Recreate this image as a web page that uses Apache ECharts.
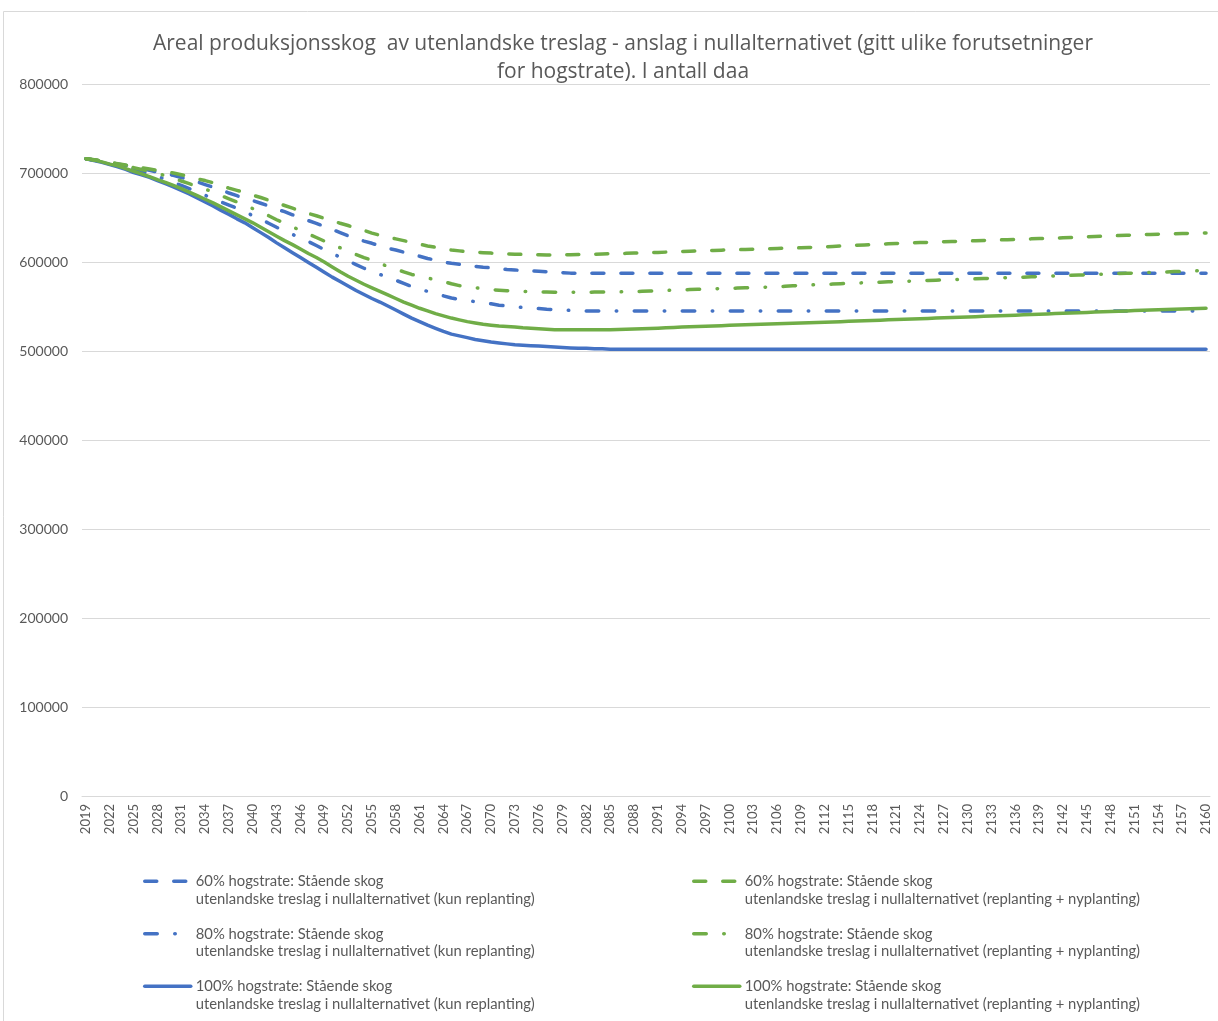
<!DOCTYPE html>
<html>
<head>
<meta charset="utf-8">
<script src="https://cdn.jsdelivr.net/npm/echarts@6/dist/echarts.min.js"></script>
<style>html,body{margin:0;padding:0;background:#fff;}#chart{width:1218px;height:1021px;}</style>
</head>
<body>
<div id="chart"></div>
<script>
var titleText = 'Areal produksjonsskog  av utenlandske treslag - anslag i nullalternativet (gitt ulike forutsetninger\nfor hogstrate). I antall daa';

var years = [2019,2020,2021,2022,2023,2024,2025,2026,2027,2028,
2029,2030,2031,2032,2033,2034,2035,2036,2037,2038,
2039,2040,2041,2042,2043,2044,2045,2046,2047,2048,
2049,2050,2051,2052,2053,2054,2055,2056,2057,2058,
2059,2060,2061,2062,2063,2064,2065,2066,2067,2068,
2069,2070,2071,2072,2073,2074,2075,2076,2077,2078,
2079,2080,2081,2082,2083,2084,2085,2086,2087,2088,
2089,2090,2091,2092,2093,2094,2095,2096,2097,2098,
2099,2100,2101,2102,2103,2104,2105,2106,2107,2108,
2109,2110,2111,2112,2113,2114,2115,2116,2117,2118,
2119,2120,2121,2122,2123,2124,2125,2126,2127,2128,
2129,2130,2131,2132,2133,2134,2135,2136,2137,2138,
2139,2140,2141,2142,2143,2144,2145,2146,2147,2148,
2149,2150,2151,2152,2153,2154,2155,2156,2157,2158,
2159,2160];

var names = [
  '60% hogstrate: Stående skog\nutenlandske treslag i nullalternativet (kun replanting)',
  '80% hogstrate: Stående skog\nutenlandske treslag i nullalternativet (kun replanting)',
  '100% hogstrate: Stående skog\nutenlandske treslag i nullalternativet (kun replanting)',
  '60% hogstrate: Stående skog\nutenlandske treslag i nullalternativet (replanting + nyplanting)',
  '80% hogstrate: Stående skog\nutenlandske treslag i nullalternativet (replanting + nyplanting)',
  '100% hogstrate: Stående skog\nutenlandske treslag i nullalternativet (replanting + nyplanting)'
];

var blue60 = [716000,714500,713000,711500,710000,708500,707000,705000,703000,701000,
699000,697500,695000,692500,690000,687000,684000,681000,677500,674500,
671500,669000,666000,663000,659500,656500,653000,650000,646500,643500,
640000,636500,633000,629500,626500,623500,621000,618000,615500,613500,
611000,609000,606500,604000,602000,600000,598500,597500,596000,595000,
594000,593500,592500,591500,591000,590500,590000,589500,589000,588500,
588000,587500,587500,587500,587500,587500,587500,587500,587500,587500,
587500,587500,587500,587500,587500,587500,587500,587500,587500,587500,
587500,587500,587500,587500,587500,587500,587500,587500,587500,587500,
587500,587500,587500,587500,587500,587500,587500,587500,587500,587500,
587500,587500,587500,587500,587500,587500,587500,587500,587500,587500,
587500,587500,587500,587500,587500,587500,587500,587500,587500,587500,
587500,587500,587500,587500,587500,587500,587500,587500,587500,587500,
587500,587500,587500,587500,587500,587500,587500,587500,587500,587500,
587500,587500];

var blue80 = [716000,714500,713000,711000,709000,707000,704500,702000,699000,696000,
693000,689500,686000,682500,679000,675000,671000,667500,664000,660500,
656500,652000,648000,643500,639000,635000,631000,627000,623000,618500,
614000,609500,605500,601500,597000,593000,589000,586000,583000,579500,
576000,572500,569500,567000,564500,562000,559500,558000,556500,555500,
554500,553000,551500,550500,549500,549000,548300,547700,547000,546500,
546000,545600,545300,545000,545000,545000,545000,545000,545000,545000,
545000,545000,545000,545000,545000,545000,545000,545000,545000,545000,
545000,545000,545000,545000,545000,545000,545000,545000,545000,545000,
545000,545000,545000,545000,545000,545000,545000,545000,545000,545000,
545000,545000,545000,545000,545000,545000,545000,545000,545000,545000,
545000,545000,545000,545000,545000,545000,545000,545000,545000,545000,
545000,545000,545000,545000,545000,545000,545000,545000,545000,545000,
545000,545000,545000,545000,545000,545000,545000,545000,545000,545000,
545000,545000];

var blue100 = [716000,714000,712000,709500,707000,704000,700500,698000,695000,691500,
688000,684500,680500,676500,672000,667500,663000,658000,653500,648500,
644000,638500,633000,627500,621500,616000,610500,605000,599500,594000,
588500,583000,578000,573000,568000,563500,559000,555000,550500,546000,
541500,537000,533000,529000,525500,522000,519000,517000,515000,513000,
511500,510000,509000,508000,507000,506500,506000,505500,505000,504500,
504000,503500,503000,503000,502500,502500,502000,502000,502000,502000,
502000,502000,502000,502000,502000,502000,502000,502000,502000,502000,
502000,502000,502000,502000,502000,502000,502000,502000,502000,502000,
502000,502000,502000,502000,502000,502000,502000,502000,502000,502000,
502000,502000,502000,502000,502000,502000,502000,502000,502000,502000,
502000,502000,502000,502000,502000,502000,502000,502000,502000,502000,
502000,502000,502000,502000,502000,502000,502000,502000,502000,502000,
502000,502000,502000,502000,502000,502000,502000,502000,502000,502000,
502000,502000];

var green60 = [716000,715000,713500,712000,710500,709000,707500,706000,704500,703000,
701500,700000,698000,696000,693500,691500,689000,686000,683000,680500,
678000,675000,672500,669500,666500,663500,660500,657500,654500,652000,
649000,646500,643500,641000,638000,635500,632500,630000,628000,626000,
624000,622000,620000,618000,616500,615000,613500,612500,611500,611000,
610500,610000,609500,609000,608800,608500,608300,608100,608000,608000,
608000,608100,608300,608500,608700,609000,609200,609500,609700,610000,
610200,610500,610800,611100,611400,611800,612200,612500,612800,613000,
613300,613500,613800,614100,614400,614700,615000,615200,615500,615700,
616000,616300,616700,617100,617500,618000,618400,618800,619200,619600,
620000,620400,620800,621200,621500,621800,622100,622400,622700,623000,
623300,623600,623900,624200,624500,624800,625100,625400,625700,626000,
626300,626600,626900,627200,627500,627900,628300,628700,629100,629400,
629700,630000,630400,630700,631000,631300,631600,631800,632000,632200,
632400,632500];

var green80 = [716000,715000,713500,712000,710000,708000,706000,704000,702000,699500,
697000,694000,691000,688000,685000,682000,678500,674500,671000,667500,
664000,660000,656000,652000,647500,643500,639500,635500,631500,627500,
623500,619500,616000,612500,608500,605000,602000,598500,595000,592000,
589000,586000,584000,582000,580000,578000,575500,573500,572000,571000,
570000,569000,568300,567700,567300,567000,566700,566400,566200,566000,
566000,566000,566000,566000,566200,566200,566300,566400,566600,566800,
567000,567300,567600,568000,568300,568700,569000,569300,569600,569900,
570200,570400,570700,571000,571300,571600,571900,572200,572700,573200,
573700,574100,574500,574900,575200,575600,576000,576300,576700,577000,
577300,577700,578000,578300,578600,578900,579200,579500,579900,580200,
580500,580800,581100,581400,581700,582000,582400,582700,583000,583300,
583700,584000,584300,584700,585000,585300,585700,586000,586300,586700,
587000,587300,587600,587900,588200,588500,588800,589200,589500,589800,
590100,590400];

var green100 = [716000,714500,712500,710000,708000,705000,702000,699000,696000,692500,
689500,686000,682500,678500,674500,670500,666500,662000,657500,653000,
648500,644000,639000,634000,629000,624000,619500,614500,609500,605000,
600000,594500,589000,584000,579500,575000,571000,567000,563000,559000,
555000,551500,548000,545000,542000,539500,537000,535000,533000,531500,
530000,529000,528000,527500,527000,526000,525500,525000,524500,524000,
524000,524000,524000,524000,524000,524000,524000,524200,524400,524600,
524900,525300,525700,526100,526500,526900,527300,527600,527900,528200,
528500,528800,529100,529400,529700,530000,530300,530600,530900,531200,
531500,531800,532100,532400,532700,533000,533300,533700,534000,534300,
534600,535000,535300,535700,536000,536300,536600,537000,537300,537600,
538000,538300,538600,539000,539300,539600,540000,540300,540600,541000,
541300,541600,542000,542300,542600,543000,543300,543700,544000,544300,
544700,545000,545400,545700,546000,546400,546700,547000,547300,547600,
547800,548000];

var yTicks = [0,100000,200000,300000,400000,500000,600000,700000,800000];

var BLUE = '#4472C4', GREEN = '#70AD47';
var DASH = [12, 17];
var DASHDOT = [12.5, 17.5, 0.5, 17.5];
var FONT = 'Lato';

function mk(name, data, color, type) {
  return {
    name: name, type: 'line', data: data, symbol: 'none', smooth: false,
    lineStyle: { color: color, width: 3.5, type: type, cap: 'round', join: 'round' },
    itemStyle: { color: color },
    emphasis: { disabled: true },
    animation: false
  };
}

var chart = echarts.init(document.getElementById('chart'), null, { renderer: 'canvas' });
var legendCommon = {
  orient: 'vertical', itemWidth: 46, itemHeight: 14, itemGap: 0, padding: 0,
  height: 165,
  itemStyle: { opacity: 0, borderWidth: 0 },
  lineStyle: { width: 3.5, cap: 'round' },
  formatter: function (name) { return ' \n' + name; },
  textStyle: { color: '#595959', fontSize: 14.8, fontFamily: FONT, lineHeight: 17.5 },
  selectedMode: false
};
chart.setOption({
  animation: false,
  backgroundColor: '#ffffff',
  graphic: [{
    type: 'rect', shape: { x: 3.5, y: 11.5, width: 1240, height: 1040 },
    style: { fill: 'none', stroke: '#d9d9d9', lineWidth: 1 }, silent: true, z: -1
  }],
  title: {
    text: titleText, left: 618, top: 25, textAlign: 'center',
    textStyle: { color: '#595959', fontSize: 21, fontWeight: 'normal', fontFamily: 'Open Sans', lineHeight: 28 }
  },
  legend: [
    Object.assign({}, legendCommon, { left: 143, top: 855, data: names.slice(0, 3) }),
    Object.assign({}, legendCommon, { left: 692, top: 855, data: names.slice(3, 6) })
  ],
  grid: { left: 82, right: 8, top: 84, bottom: 225, containLabel: false },
  xAxis: {
    type: 'category', data: years, boundaryGap: true,
    axisLine: { show: true, lineStyle: { color: '#d9d9d9', width: 1 } },
    axisTick: { show: false },
    axisLabel: { interval: 2, rotate: 90, color: '#595959', fontSize: 13, fontFamily: FONT, margin: 8 },
    splitLine: { show: false }
  },
  yAxis: {
    type: 'value', min: yTicks[0], max: yTicks[yTicks.length - 1], interval: 100000,
    axisLine: { show: false }, axisTick: { show: false },
    axisLabel: { color: '#595959', fontSize: 14, fontFamily: FONT, margin: 14, formatter: function (v) { return String(v); } },
    splitLine: { lineStyle: { color: '#d9d9d9', width: 1 } }
  },
  series: [
    mk(names[0], blue60, BLUE, DASH),
    mk(names[1], blue80, BLUE, DASHDOT),
    mk(names[2], blue100, BLUE, 'solid'),
    mk(names[3], green60, GREEN, DASH),
    mk(names[4], green80, GREEN, DASHDOT),
    mk(names[5], green100, GREEN, 'solid')
  ]
});
</script>
</body>
</html>
